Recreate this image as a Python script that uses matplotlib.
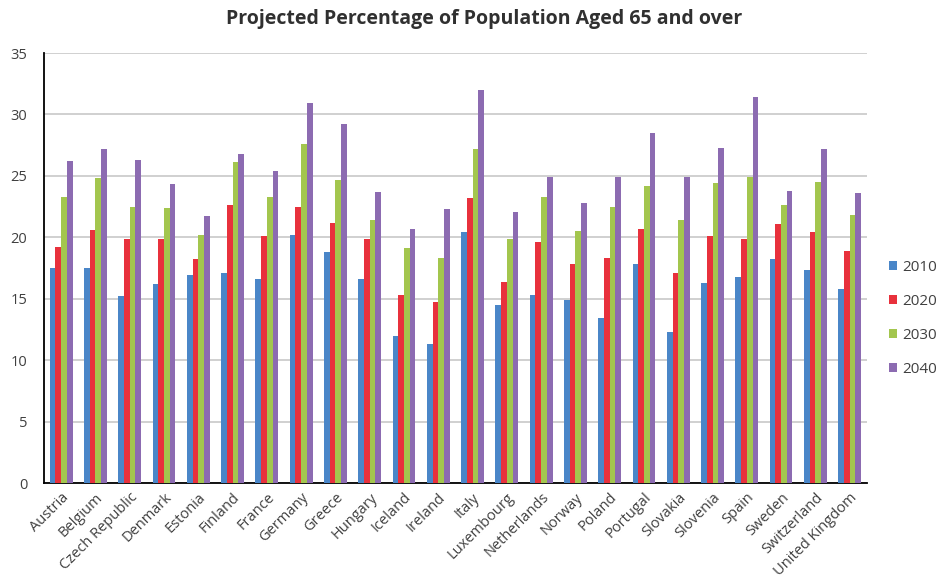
import numpy as np
import matplotlib.pyplot as plt

# countries and projected share of population aged 65+ (%)
countries = ['Austria', 'Belgium', 'Czech Republic', 'Denmark', 'Estonia', 'Finland',
             'France', 'Germany', 'Greece', 'Hungary', 'Iceland', 'Ireland', 'Italy',
             'Luxembourg', 'Netherlands', 'Norway', 'Poland', 'Portugal', 'Slovakia',
             'Slovenia', 'Spain', 'Sweden', 'Switzerland', 'United Kingdom']

y2010 = [17.5, 17.5, 15.2, 16.2, 16.9, 17.1, 16.6, 20.2, 18.8, 16.6, 12.0, 11.3,
         20.4, 14.5, 15.3, 14.9, 13.4, 17.8, 12.3, 16.3, 16.8, 18.2, 17.3, 15.8]
y2020 = [19.2, 20.6, 19.9, 19.9, 18.2, 22.6, 20.1, 22.5, 21.2, 19.9, 15.3, 14.7,
         23.2, 16.4, 19.6, 17.8, 18.3, 20.7, 17.1, 20.1, 19.9, 21.1, 20.4, 18.9]
y2030 = [23.3, 24.8, 22.5, 22.4, 20.2, 26.1, 23.3, 27.6, 24.7, 21.4, 19.1, 18.3,
         27.2, 19.9, 23.3, 20.5, 22.5, 24.2, 21.4, 24.4, 24.9, 22.6, 24.5, 21.8]
y2040 = [26.2, 27.2, 26.3, 24.3, 21.7, 26.8, 25.4, 30.9, 29.2, 23.7, 20.7, 22.3,
         32.0, 22.1, 24.9, 22.8, 24.9, 28.5, 24.9, 27.3, 31.4, 23.8, 27.2, 23.6]

years = ['2010', '2020', '2030', '2040']
series = [y2010, y2020, y2030, y2040]
colors = ['#4a86c8', '#e8313c', '#a3c64e', '#8c6bb1']

plt.rcParams['font.family'] = ['Open Sans', 'DejaVu Sans']

fig = plt.figure(figsize=(9.49, 5.84), dpi=100)
ax = fig.add_axes([0.0464, 0.1729, 0.867, 0.7363])

x = np.arange(len(countries))
w = 0.166
for i in range(len(series)):
    ax.bar(x + (i - 1.5) * w, series[i], width=w, color=colors[i],
           label=years[i], zorder=3)

ax.set_xlim(-0.5, len(countries) - 0.5)
ax.set_ylim(0, 35)
ax.set_yticks(np.arange(0, 36, 5))
ax.yaxis.grid(True, color='#c8c8c8', linewidth=1.2, zorder=0)
ax.set_axisbelow(True)

for s in ['top', 'right']:
    ax.spines[s].set_visible(False)
for s in ['left', 'bottom']:
    ax.spines[s].set_color('black')
    ax.spines[s].set_linewidth(1.3)

ax.tick_params(axis='both', length=0, colors='#404040', labelsize=10.5)
ax.tick_params(axis='y', pad=12)
ax.tick_params(axis='x', pad=5)
ax.set_xticks(x)
ax.set_xticklabels(countries, rotation=45, ha='right', rotation_mode='anchor')

fig.suptitle('Projected Percentage of Population Aged 65 and over',
             x=0.51, y=0.985, fontsize=14, fontweight='bold', color='#303030')

leg = ax.legend(loc='center left', bbox_to_anchor=(1.01, 0.383), frameon=False,
                handlelength=0.55, handleheight=0.55, handletextpad=0.3,
                labelspacing=1.25, fontsize=11, labelcolor='#404040')

fig.savefig('out.png', dpi=100)
